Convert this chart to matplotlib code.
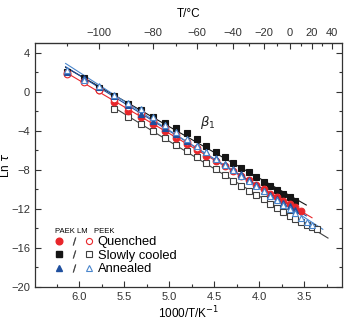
import numpy as np
import matplotlib
matplotlib.use("Agg")
import matplotlib.pyplot as plt
from matplotlib.lines import Line2D
from matplotlib.legend_handler import HandlerTuple
from matplotlib.ticker import MultipleLocator

plt.rcParams['font.family'] = ['Liberation Sans', 'DejaVu Sans']
plt.rcParams['axes.unicode_minus'] = True

# measuring temperatures, degC (5 K steps)
temp_all = np.arange(-110, 30, 5)

# PAEK LM slowly cooled (filled squares), -110 .. 5 C
temp_sc_lm = temp_all[:24]
lnt_sc_lm = [2.0, 1.4, 0.4, -0.45, -1.2, -1.9, -2.6, -3.15, -3.7, -4.24, -4.85, -5.54,
             -6.19, -6.63, -7.25, -7.76, -8.2, -8.68, -9.23, -9.64, -10.05, -10.46, -10.8, -11.15]

# PAEK LM quenched (filled circles), -110 .. 10 C
temp_q_lm = temp_all[:25]
lnt_q_lm = [1.9, 1.15, 0.15, -1.0, -2.0, -2.6, -3.35, -4.05, -4.7, -5.35, -5.95, -6.55,
            -7.1, -7.6, -8.1, -8.6, -9.05, -9.54, -9.98, -10.46, -10.8, -11.18, -11.49, -11.83, -12.2]

# PAEK LM annealed (filled triangles), -110 .. 5 C
temp_a_lm = temp_all[:24]
lnt_a_lm = [2.05, 1.45, 0.45, -0.45, -1.35, -2.3, -3.0, -3.75, -4.35, -5.0, -5.6, -6.2,
            -6.8, -7.35, -7.9, -8.4, -9.0, -9.6, -10.2, -10.6, -11.0, -11.4, -11.75, -12.15]

# PEEK quenched (open circles), -110 .. -60 C
temp_q_pk = temp_all[:11]
lnt_q_pk = [1.85, 1.0, 0.2, -0.7, -1.55, -2.2, -2.95, -3.7, -4.4, -5.1, -5.75]

# PEEK slowly cooled (open squares), -95 .. 25 C
temp_sc_pk = temp_all[3:]
lnt_sc_pk = [-1.75, -2.55, -3.3, -3.97, -4.75, -5.44, -6.05, -6.63, -7.25, -7.9, -8.5, -9.1,
             -9.65, -10.15, -10.6, -11.0, -11.45, -11.9, -12.3, -12.7, -13.05, -13.35, -13.6, -13.85, -14.1]

# PEEK annealed (open triangles), -110 .. 20 C
temp_a_pk = temp_all[:27]
lnt_a_pk = [2.2, 1.2, 0.55, -0.3, -1.1, -1.8, -2.6, -3.4, -4.15, -4.85, -5.55, -6.2,
            -6.85, -7.45, -8.05, -8.6, -9.15, -9.65, -10.15, -10.65, -11.1, -11.6, -12.0,
            -12.45, -12.9, -13.3, -13.6]

red = '#e8262a'
blue = '#1f4f9e'
lblue = '#4a86cc'
black = '#151515'
grey = '#404040'


def inv_t(tc):
    return 1000.0 / (np.asarray(tc, dtype=float) + 273.15)


fig = plt.figure(figsize=(3.46, 3.21), dpi=100)
ax = fig.add_axes([0.101, 0.106, 0.887, 0.760])

series = [
    (temp_sc_pk, lnt_sc_pk, dict(marker='s', mfc='white', mec=grey, color=grey), grey),
    (temp_sc_lm, lnt_sc_lm, dict(marker='s', mfc=black, mec=black, color=black), black),
    (temp_q_lm, lnt_q_lm, dict(marker='o', mfc=red, mec=red, color=red), red),
    (temp_q_pk, lnt_q_pk, dict(marker='o', mfc='white', mec=red, color=red), None),
    (temp_a_lm, lnt_a_lm, dict(marker='^', mfc=blue, mec=blue, color=blue), blue),
    (temp_a_pk, lnt_a_pk, dict(marker='^', mfc='white', mec=lblue, color=lblue), lblue),
]

# fitted Arrhenius lines
for tc, y, kw, lc in series:
    if lc is None:
        continue
    x = inv_t(tc)
    k, b = np.polyfit(x, y, 1)
    xx = np.array([x.max() + 0.02, x.min() - 0.12])
    ax.plot(xx, k * xx + b, '-', color=lc, lw=0.8, zorder=1)

for tc, y, kw, lc in series:
    ax.plot(inv_t(tc), y, ls='none', ms=4.8, mew=0.8, zorder=2, **kw)

ax.set_xlim(6.49, 3.08)
ax.set_ylim(-20, 5)
ax.xaxis.set_major_locator(MultipleLocator(0.5))
ax.xaxis.set_minor_locator(MultipleLocator(0.25))
ax.yaxis.set_major_locator(MultipleLocator(4))
ax.yaxis.set_minor_locator(MultipleLocator(2))
ax.tick_params(which='both', direction='in', labelsize=8, colors='#333333',
               right=True, width=0.8)
ax.tick_params(which='major', length=4)
ax.tick_params(which='minor', length=2)
ax.xaxis.set_major_formatter(matplotlib.ticker.FormatStrFormatter('%.1f'))
for s in ax.spines.values():
    s.set_color('#333333')
    s.set_linewidth(0.9)

ax.set_xlabel('1000/T/K$^{-1}$', fontsize=8.5, labelpad=2)
ax.set_ylabel(r'Ln $\tau$', fontsize=8.5)
ax.yaxis.set_label_coords(-0.075, 0.5)

sec = ax.secondary_xaxis('top', functions=(lambda x: 1000.0 / x - 273.15,
                                           lambda t: 1000.0 / (t + 273.15)))
sec.set_xticks([-100, -80, -60, -40, -20, 0, 20, 40])
sec.set_xticks(np.arange(-110, 41, 10), minor=True)
sec.tick_params(which='both', direction='in', labelsize=8, colors='#333333', width=0.8)
sec.tick_params(which='major', length=4)
sec.tick_params(which='minor', length=2)
sec.set_xlabel('T/°C', fontsize=8.5, labelpad=8)

ax.text(4.66, -3.5, r'$\beta_1$', fontsize=9.5, color='#222222')

# legend
slash = Line2D([], [], ls='none', marker='$/$', color='#333333', ms=5.5, mew=0.3)
h_q = (Line2D([], [], ls='none', marker='o', mfc=red, mec=red, ms=4.8), slash,
       Line2D([], [], ls='none', marker='o', mfc='white', mec=red, ms=4.4, mew=0.8))
h_s = (Line2D([], [], ls='none', marker='s', mfc=black, mec=black, ms=4.6), slash,
       Line2D([], [], ls='none', marker='s', mfc='white', mec=grey, ms=4.4, mew=0.8))
h_a = (Line2D([], [], ls='none', marker='^', mfc=blue, mec=blue, ms=4.8), slash,
       Line2D([], [], ls='none', marker='^', mfc='white', mec=lblue, ms=4.6, mew=0.8))
leg = ax.legend([h_q, h_s, h_a], ['Quenched', 'Slowly cooled', 'Annealed'],
                handler_map={tuple: HandlerTuple(ndivide=None, pad=0.5)},
                loc='upper left', bbox_to_anchor=(0.045, 0.27), frameon=False,
                fontsize=9.3, handlelength=2.9, handletextpad=0.4, labelspacing=0.12,
                borderpad=0, title='PAEK LM   PEEK', title_fontsize=5.5, alignment='left')

fig.savefig('out.png', dpi=100)
